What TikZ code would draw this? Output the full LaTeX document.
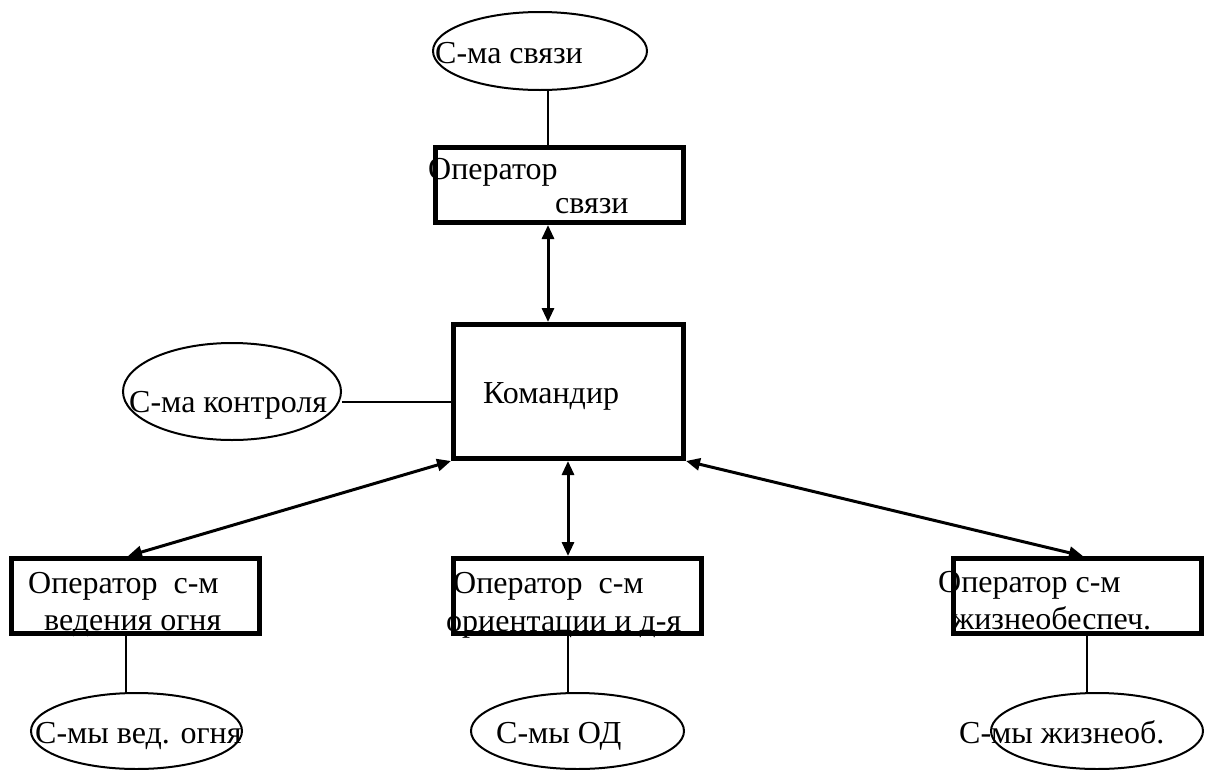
\documentclass[tikz,border=0pt]{standalone}
\usepackage{fontspec}
\setmainfont{Liberation Serif}
\usetikzlibrary{arrows.meta,shapes.geometric}
\begin{document}
\begin{tikzpicture}[x=1pt,y=-1pt,
  box/.style={draw,line width=5pt,rectangle,minimum width=248pt,minimum height=75pt,inner sep=0pt},
  oval/.style={draw,line width=2pt,ellipse,inner sep=0pt},
  lbl/.style={anchor=base west,inner sep=0pt,font=\fontsize{32}{38}\selectfont},
  link/.style={line width=2pt},
  dual/.style={line width=3pt,{Triangle[length=14pt,width=12pt]}-{Triangle[length=14pt,width=12pt]}}]
\useasboundingbox (0,0) rectangle (1213,769);

% rectangles
\node[box] (opSv) at (559,185) {};
\node[box,minimum width=230pt,minimum height=134pt] (cmd) at (568.5,391.5) {};
\node[box] (opFire) at (135.5,596) {};
\node[box] (opOr) at (577.5,596) {};
\node[box] (opLife) at (1077.5,596) {};

% ovals
\node[oval,minimum width=214pt,minimum height=78pt] (sysSv) at (540,51) {};
\node[oval,minimum width=218pt,minimum height=97pt] (sysCtl) at (232,391.5) {};
\node[oval,minimum width=211pt,minimum height=76pt] (sysFire) at (136.5,731) {};
\node[oval,minimum width=213pt,minimum height=76pt] (sysOr) at (577.5,731) {};
\node[oval,minimum width=212pt,minimum height=76pt] (sysLife) at (1097,731) {};

% labels
\node[lbl] (tSv) at (435,63) {С-ма связи};
\node[lbl] (tOpSv1) at (428,179) {Оператор};
\node[lbl] (tOpSv2) at (555,213) {связи};
\node[lbl] (tCtl) at (129,412) {С-ма контроля};
\node[lbl] (tCmd) at (483,403) {Командир};
\node[lbl] (tFire1) at (28,593) {Оператор\ \ с-м};
\node[lbl] (tFire2) at (44,630) {ведения огня};
\node[lbl] (tOr1) at (453,593) {Оператор\ \ с-м};
\node[lbl] (tOr2) at (446,631) {ориентации и д-я};
\node[lbl] (tLife1) at (938,592) {Оператор с-м};
\node[lbl] (tLife2) at (952,629) {жизнеобеспеч.};
\node[lbl] (tSFire) at (35,743) {С-мы вед. огня};
\node[lbl] (tSOr) at (496,743) {С-мы ОД};
\node[lbl] (tSLife) at (959,743) {С-мы жизнеоб.};

% guide coordinates for the connector lines
\coordinate (xSv) at (548,0);
\coordinate (xOr) at (568,0);
\coordinate (xFire) at (126,0);
\coordinate (xLife) at (1087,0);
\coordinate (yCtl) at (0,402);
\coordinate (xFireTip) at (128,0);
\coordinate (xLifeTip) at (1083,0);

% plain links
\draw[link] (sysSv.south -| xSv) -- (opSv.north -| xSv);
\draw[link] (sysCtl.east |- yCtl) -- (cmd.west |- yCtl);
\draw[link] (opFire.south -| xFire) -- (sysFire.north -| xFire);
\draw[link] (opOr.south -| xOr) -- (sysOr.north -| xOr);
\draw[link] (opLife.south -| xLife) -- (sysLife.north -| xLife);

% two-way arrows
\draw[dual] (opSv.south -| xSv) -- (cmd.north -| xSv);
\draw[dual] (cmd.south -| xOr) -- (opOr.north -| xOr);
\draw[dual] (cmd.south west) -- (opFire.north -| xFireTip);
\draw[dual] (cmd.south east) -- (opLife.north -| xLifeTip);
\end{tikzpicture}
\end{document}
